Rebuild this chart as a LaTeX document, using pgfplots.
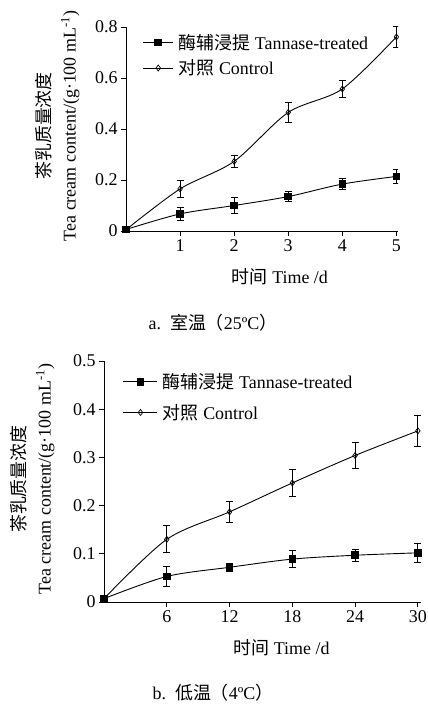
\documentclass[border=0pt]{standalone}
\usepackage{fontspec}
\setmainfont{Liberation Serif}
\newfontfamily\cjk{Noto Sans CJK SC}
\usepackage{pgfplots}
\pgfplotsset{compat=1.18}
\newcommand\fs{\fontsize{18}{25}\selectfont}
\begin{document}
\begin{tikzpicture}
\useasboundingbox[fill=white] (0bp,0bp) rectangle (428bp,704bp);
\pgfplotsset{
 mystyle/.style={
  scale only axis, axis lines*=left, tick align=outside, major tick length=5bp,
  axis line style={line width=0.9pt}, tick style={line width=0.9pt, black},
  /pgf/number format/assume math mode=true,
  tick label style={font=\fs}, label style={font=\fs},
  ylabel style={align=center, anchor=center},
  xlabel style={anchor=center},
  legend style={draw=none, fill=none, font=\fs, anchor=north west},
  legend cell align=left,
  legend image code/.code={\draw[mark repeat=2,mark phase=2] plot coordinates {(0bp,0bp) (15bp,0bp) (30bp,0bp)};},
  every axis plot/.append style={line width=0.9pt, black},
  minor tick num=0,
 },
 s1/.style={smooth, mark=square*, mark size=3.3bp, mark options={solid, fill=black},
   error bars/.cd, y dir=both, y explicit, error bar style={line width=0.9pt}, error mark options={rotate=90, mark size=3.5bp, line width=0.9pt}},
 s2/.style={smooth, mark=diamond, mark size=3bp, mark options={solid, fill=white, line width=0.7pt},
   error bars/.cd, y dir=both, y explicit, error bar style={line width=0.9pt}, error mark options={rotate=90, mark size=3.5bp, line width=0.9pt}},
}
% ---------- top: room temperature ----------
\begin{axis}[mystyle, at={(126bp,473bp)}, anchor=south west, width=272bp, height=204bp,
  xmin=0, xmax=5.03, ymin=0, ymax=0.8,
  xtick={1,2,3,4,5}, ytick={0,0.2,0.4,0.6,0.8},
  xlabel={{\cjk 时间} Time /d},
  ylabel={{\cjk 茶乳质量浓度}\\Tea cream content/(g·100 mL\textsuperscript{-1})},
  xlabel style={at={(axis description cs:0.566,-0.225)}},
  ylabel style={at={(axis description cs:-0.252,0.515)}},
  legend style={at={(axis description cs:0.05,0.985)}, row sep=5bp, nodes={inner xsep=5bp}}]
\addplot[s1] coordinates {(0,0.006) +- (0,0) (1,0.067) +- (0,0.027) (2,0.10) +- (0,0.033) (3,0.135) +- (0,0.02) (4,0.184) +- (0,0.022) (5,0.214) +- (0,0.027)};
\addlegendentry{{\cjk 酶辅浸提} Tannase-treated}
\addplot[s2] coordinates {(0,0.005) +- (0,0) (1,0.165) +- (0,0.033) (2,0.273) +- (0,0.024) (3,0.465) +- (0,0.038) (4,0.557) +- (0,0.033) (5,0.761) +- (0,0.043)};
\addlegendentry{{\cjk 对照} Control}
\end{axis}
\node[font=\fs] at (213bp,381bp) {a.\ \ {\cjk 室温（}25ºC{\cjk ）}};
% ---------- bottom: low temperature ----------
\begin{axis}[mystyle, at={(104bp,102bp)}, anchor=south west, width=317bp, height=241bp,
  xmin=0, xmax=30.3, ymin=0, ymax=0.5,
  xtick={6,12,18,24,30}, ytick={0,0.1,0.2,0.3,0.4,0.5},
  xlabel={{\cjk 时间} Time /d},
  ylabel={{\cjk 茶乳质量浓度}\\Tea cream content/(g·100 mL\textsuperscript{-1})},
  xlabel style={at={(axis description cs:0.56,-0.19)}},
  ylabel style={at={(axis description cs:-0.2256,0.51)}},
  legend style={at={(axis description cs:0.05,0.965)}, row sep=10bp, nodes={inner xsep=5bp}},
  legend image code/.code={\draw[mark repeat=2,mark phase=2] plot coordinates {(0bp,0bp) (17bp,0bp) (34bp,0bp)};}]
\addplot[s1] coordinates {(0,0.007) +- (0,0) (6,0.053) +- (0,0.02) (12,0.072) +- (0,0.009) (18,0.089) +- (0,0.017) (24,0.097) +- (0,0.012) (30,0.102) +- (0,0.019)};
\addlegendentry{{\cjk 酶辅浸提} Tannase-treated}
\addplot[s2] coordinates {(0,0.007) +- (0,0) (6,0.13) +- (0,0.028) (12,0.187) +- (0,0.021) (18,0.247) +- (0,0.029) (24,0.304) +- (0,0.026) (30,0.355) +- (0,0.032)};
\addlegendentry{{\cjk 对照} Control}
\end{axis}
\node[font=\fs] at (213bp,11bp) {b.\ \ {\cjk 低温（}4ºC{\cjk ）}};
\end{tikzpicture}
\end{document}
